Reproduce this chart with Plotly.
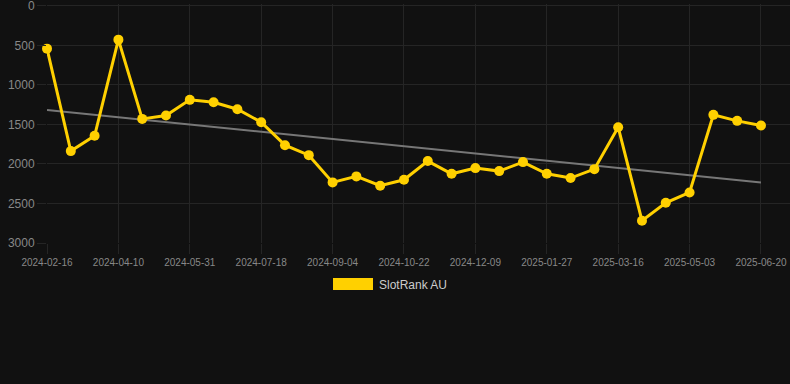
import plotly.graph_objects as go

dates = [
    "2024-02-16", "2024-03-04", "2024-03-22", "2024-04-10", "2024-04-27",
    "2024-05-14", "2024-05-31", "2024-06-16", "2024-07-02", "2024-07-18",
    "2024-08-03", "2024-08-19", "2024-09-04", "2024-09-20", "2024-10-06",
    "2024-10-22", "2024-11-07", "2024-11-23", "2024-12-09", "2024-12-25",
    "2025-01-11", "2025-01-27", "2025-02-12", "2025-02-28", "2025-03-16",
    "2025-04-01", "2025-04-17", "2025-05-03", "2025-05-19", "2025-06-04",
    "2025-06-20",
]
rank = [
    540, 1837, 1643, 426, 1429, 1387, 1188, 1218, 1307, 1471,
    1762, 1888, 2233, 2157, 2275, 2200, 1963, 2124, 2052, 2090,
    1976, 2124, 2178, 2065, 1534, 2718, 2491, 2360, 1378, 1454,
    1513,
]
trend_x = [dates[0], dates[-1]]
trend_y = [1315, 2235]
y_ticks = [0, 500, 1000, 1500, 2000, 2500, 3000]
series_name = "SlotRank AU"

BG = "#111111"
GRID = "#252525"
GOLD = "#FFD000"

fig = go.Figure()
fig.add_trace(go.Scatter(
    x=trend_x, y=trend_y, mode="lines",
    line=dict(color="#777777", width=2),
    showlegend=False, hoverinfo="skip",
))
fig.add_trace(go.Scatter(
    x=dates, y=rank, mode="lines+markers", name=series_name,
    line=dict(color=GOLD, width=3),
    marker=dict(color=GOLD, size=10),
    cliponaxis=False, showlegend=False,
))

# plot area: x 47..790, y 4..243 ; 0 at y=6, 3000 at y=243
fig.update_layout(
    width=790, height=384,
    paper_bgcolor=BG, plot_bgcolor=BG,
    margin=dict(l=47, r=0, t=4, b=141),
    font=dict(family="Liberation Sans, Arial, sans-serif", color="#888888"),
    showlegend=False,
)
fig.update_xaxes(
    type="category", categoryorder="array", categoryarray=dates,
    range=[0, 31.22],
    tickmode="array", tickvals=dates[::3], ticktext=dates[::3],
    showgrid=True, gridcolor=GRID, gridwidth=1,
    ticks="outside", ticklen=10, tickcolor=GRID, tickwidth=1,
    tickfont=dict(size=10, color="#888888"),
    showline=False, zeroline=False,
)
fig.update_yaxes(
    range=[3000, -25],
    tickmode="array", tickvals=y_ticks,
    ticklabeloverflow="allow",
    showgrid=True, gridcolor=GRID, gridwidth=1,
    ticks="outside", ticklen=9, tickcolor=GRID, tickwidth=1,
    tickfont=dict(size=12, color="#888888"),
    showline=False, zeroline=False,
)

# legend drawn manually (colored box + label)
fig.add_shape(type="rect", xref="paper", yref="paper",
              x0=(333 - 47) / 743, x1=(373 - 47) / 743,
              y0=(243 - 290) / 239, y1=(243 - 278) / 239,
              fillcolor=GOLD, line=dict(width=0))
fig.add_annotation(xref="paper", yref="paper",
                   x=(377 - 47) / 743, y=(243 - 284.5) / 239,
                   text=series_name, showarrow=False,
                   xanchor="left", yanchor="middle",
                   font=dict(size=12, color="#cccccc"))

fig.write_html(
    "out.html",
    config={"displayModeBar": False},
    post_script="document.body.style.margin='0';document.body.style.background='#111111';",
)
